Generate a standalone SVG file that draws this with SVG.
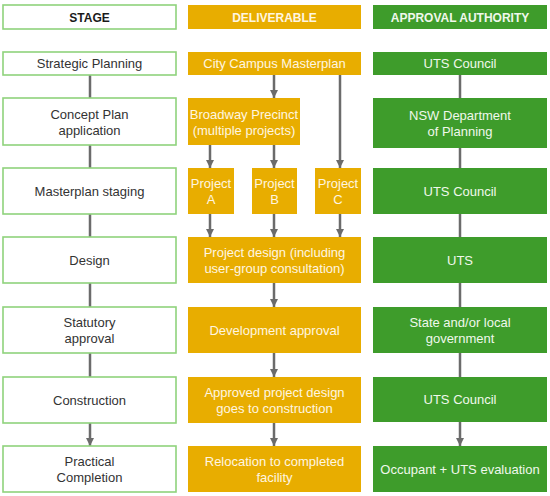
<svg xmlns="http://www.w3.org/2000/svg" width="550" height="496" viewBox="0 0 550 496">
<defs>
<style>
.stage{fill:#ffffff;stroke:#8fd37c;stroke-width:1.6}
.deliv{fill:#e8ad00}
.appr{fill:#3e9c2b}
text{font-family:"Liberation Sans",Arial,sans-serif;font-size:13px;text-anchor:middle}
.st{fill:#333333}
.wt{fill:#fff6e0}
.gt{fill:#f0f8ec}
.hd{font-weight:bold;font-size:12px}
.ln{stroke:#6b6b6b;stroke-width:2.5;fill:none}
</style>
<marker id="ah" viewBox="0 0 10 10" refX="10" refY="5" markerWidth="3.4" markerHeight="3.4" orient="auto" markerUnits="strokeWidth">
<path d="M0,0 L10,5 L0,10 z" fill="#6b6b6b"/>
</marker>
</defs>
<rect width="550" height="496" fill="#ffffff"/>

<g id="connectors">
<!-- stage column -->
<line class="ln" x1="90" y1="75" x2="90" y2="98"/>
<line class="ln" x1="90" y1="145" x2="90" y2="168"/>
<line class="ln" x1="90" y1="214" x2="90" y2="237"/>
<line class="ln" x1="90" y1="283" x2="90" y2="307"/>
<line class="ln" x1="90" y1="353" x2="90" y2="377"/>
<line class="ln" x1="90" y1="423" x2="90" y2="446" marker-end="url(#ah)"/>
<!-- deliverable column -->
<line class="ln" x1="274" y1="75" x2="274" y2="98" marker-end="url(#ah)"/>
<line class="ln" x1="340" y1="75" x2="340" y2="168" marker-end="url(#ah)"/>
<line class="ln" x1="210" y1="145" x2="210" y2="168" marker-end="url(#ah)"/>
<line class="ln" x1="274" y1="145" x2="274" y2="168" marker-end="url(#ah)"/>
<line class="ln" x1="210" y1="214" x2="210" y2="237" marker-end="url(#ah)"/>
<line class="ln" x1="274" y1="214" x2="274" y2="237" marker-end="url(#ah)"/>
<line class="ln" x1="340" y1="214" x2="340" y2="237" marker-end="url(#ah)"/>
<line class="ln" x1="274" y1="283" x2="274" y2="307" marker-end="url(#ah)"/>
<line class="ln" x1="274" y1="353" x2="274" y2="377" marker-end="url(#ah)"/>
<line class="ln" x1="274" y1="423" x2="274" y2="446" marker-end="url(#ah)"/>
<!-- approval column -->
<line class="ln" x1="460" y1="75" x2="460" y2="98"/>
<line class="ln" x1="460" y1="148" x2="460" y2="168"/>
<line class="ln" x1="460" y1="214" x2="460" y2="237"/>
<line class="ln" x1="460" y1="283" x2="460" y2="307"/>
<line class="ln" x1="460" y1="353" x2="460" y2="377"/>
<line class="ln" x1="460" y1="422" x2="460" y2="446" marker-end="url(#ah)"/>
</g>

<!-- headers -->
<g id="h-stage"><rect class="stage" x="3" y="5" width="173" height="24"/><text class="hd" x="89.5" y="21.5" fill="#1a1a1a">STAGE</text></g>
<g id="h-deliv"><rect class="deliv" x="188" y="5" width="173" height="24"/><text class="hd wt" x="274.5" y="21.5">DELIVERABLE</text></g>
<g id="h-appr"><rect class="appr" x="373" y="5" width="174" height="24"/><text class="hd gt" x="460" y="21.5">APPROVAL AUTHORITY</text></g>

<!-- stage column -->
<g id="s1"><rect class="stage" x="3" y="52" width="173" height="23"/><text class="st" x="89.5" y="68">Strategic Planning</text></g>
<g id="s2"><rect class="stage" x="3" y="98" width="173" height="47"/><text class="st" x="89.5" y="118.5">Concept Plan</text><text class="st" x="89.5" y="134.5">application</text></g>
<g id="s3"><rect class="stage" x="3" y="168" width="173" height="46"/><text class="st" x="89.5" y="195.5">Masterplan staging</text></g>
<g id="s4"><rect class="stage" x="3" y="237" width="173" height="46"/><text class="st" x="89.5" y="264.5">Design</text></g>
<g id="s5"><rect class="stage" x="3" y="307" width="173" height="46"/><text class="st" x="89.5" y="326.5">Statutory</text><text class="st" x="89.5" y="342.5">approval</text></g>
<g id="s6"><rect class="stage" x="3" y="377" width="173" height="46"/><text class="st" x="89.5" y="404.5">Construction</text></g>
<g id="s7"><rect class="stage" x="3" y="446" width="173" height="46"/><text class="st" x="89.5" y="465.5">Practical</text><text class="st" x="89.5" y="481.5">Completion</text></g>

<!-- deliverable column -->
<g id="d1"><rect class="deliv" x="188" y="52" width="173" height="23"/><text class="wt" x="274.5" y="68">City Campus Masterplan</text></g>
<g id="d2"><rect class="deliv" x="188" y="98" width="112" height="47"/><text class="wt" x="244" y="118.5">Broadway Precinct</text><text class="wt" x="244" y="134.5">(multiple projects)</text></g>
<g id="d3a"><rect class="deliv" x="188" y="168" width="46" height="46"/><text class="wt" x="211" y="188">Project</text><text class="wt" x="211" y="204">A</text></g>
<g id="d3b"><rect class="deliv" x="252" y="168" width="45" height="46"/><text class="wt" x="274.5" y="188">Project</text><text class="wt" x="274.5" y="204">B</text></g>
<g id="d3c"><rect class="deliv" x="315" y="168" width="46" height="46"/><text class="wt" x="338" y="188">Project</text><text class="wt" x="338" y="204">C</text></g>
<g id="d4"><rect class="deliv" x="188" y="237" width="173" height="46"/><text class="wt" x="274.5" y="256.5">Project design (including</text><text class="wt" x="274.5" y="272.5">user-group consultation)</text></g>
<g id="d5"><rect class="deliv" x="188" y="307" width="173" height="46"/><text class="wt" x="274.5" y="334.5">Development approval</text></g>
<g id="d6"><rect class="deliv" x="188" y="377" width="173" height="46"/><text class="wt" x="274.5" y="396.5">Approved project design</text><text class="wt" x="274.5" y="412.5">goes to construction</text></g>
<g id="d7"><rect class="deliv" x="188" y="446" width="173" height="46"/><text class="wt" x="274.5" y="465.5">Relocation to completed</text><text class="wt" x="274.5" y="481.5">facility</text></g>

<!-- approval column -->
<g id="a1"><rect class="appr" x="373" y="52" width="174" height="23"/><text class="gt" x="460" y="68">UTS Council</text></g>
<g id="a2"><rect class="appr" x="373" y="98" width="174" height="50"/><text class="gt" x="460" y="120">NSW Department</text><text class="gt" x="460" y="136">of Planning</text></g>
<g id="a3"><rect class="appr" x="373" y="168" width="174" height="46"/><text class="gt" x="460" y="195.5">UTS Council</text></g>
<g id="a4"><rect class="appr" x="373" y="237" width="174" height="46"/><text class="gt" x="460" y="264.5">UTS</text></g>
<g id="a5"><rect class="appr" x="373" y="307" width="174" height="46"/><text class="gt" x="460" y="326.5">State and/or local</text><text class="gt" x="460" y="342.5">government</text></g>
<g id="a6"><rect class="appr" x="373" y="377" width="174" height="45"/><text class="gt" x="460" y="404">UTS Council</text></g>
<g id="a7"><rect class="appr" x="373" y="446" width="174" height="46"/><text class="gt" x="460" y="473.5">Occupant + UTS evaluation</text></g>
</svg>
